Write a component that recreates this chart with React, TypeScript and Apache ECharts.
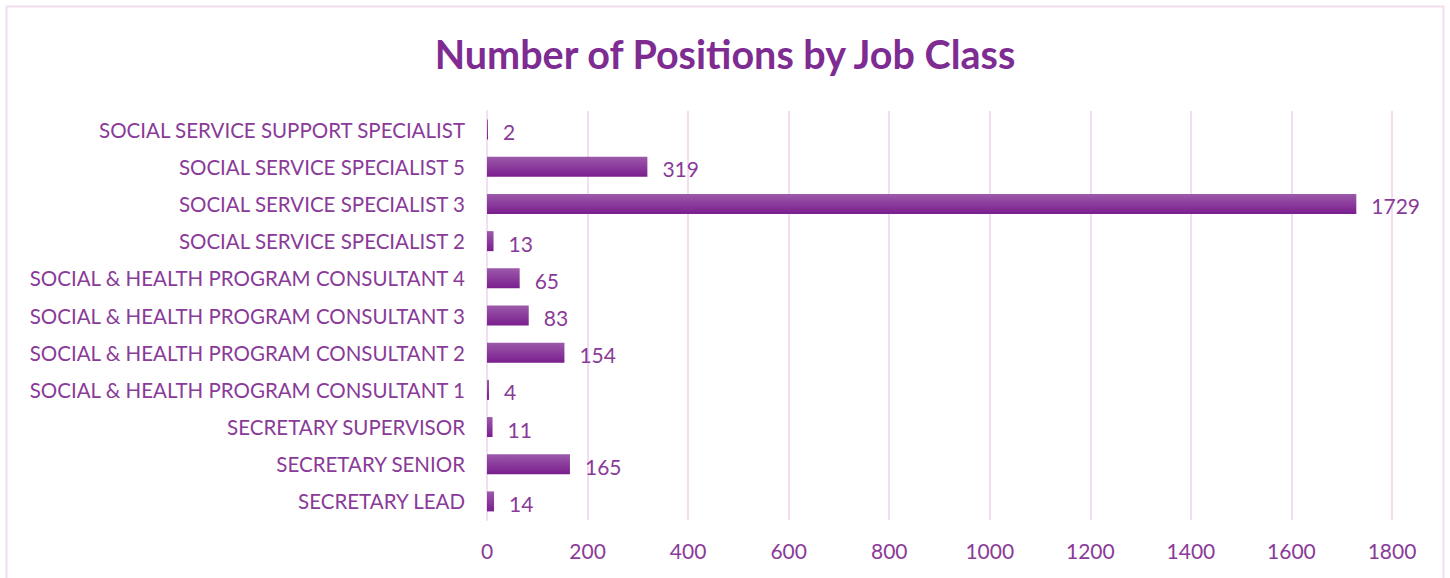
import React, { useEffect, useRef } from "react";
import * as echarts from "echarts";

const categories = [
  "SECRETARY LEAD",
  "SECRETARY SENIOR",
  "SECRETARY SUPERVISOR",
  "SOCIAL & HEALTH PROGRAM CONSULTANT 1",
  "SOCIAL & HEALTH PROGRAM CONSULTANT 2",
  "SOCIAL & HEALTH PROGRAM CONSULTANT 3",
  "SOCIAL & HEALTH PROGRAM CONSULTANT 4",
  "SOCIAL SERVICE SPECIALIST 2",
  "SOCIAL SERVICE SPECIALIST 3",
  "SOCIAL SERVICE SPECIALIST 5",
  "SOCIAL SERVICE SUPPORT SPECIALIST",
];
const positions = [14, 165, 11, 4, 154, 83, 65, 13, 1729, 319, 2];
const xMin = 0;
const xMax = 1800;
const xInterval = 200;

const TEXT = "#8A3A98";
const FONT = "Lato, 'Open Sans', sans-serif";

export default function App() {
  const ref = useRef<HTMLDivElement>(null);
  useEffect(() => {
    if (!ref.current) return;
    const chart = echarts.init(ref.current, null, { renderer: "svg" });
    chart.setOption({
      animation: false,
      backgroundColor: "#ffffff",
      title: {
        text: "Number of Positions by Job Class",
        left: "center",
        top: 28,
        textStyle: { color: "#7E2B92", fontSize: 39.5, fontWeight: "bold", fontFamily: FONT },
      },
      graphic: [
        {
          type: "rect",
          shape: { x: 6.5, y: 6.5, width: 1437, height: 600 },
          style: { fill: "none", stroke: "#F3DDF1", lineWidth: 2 },
          silent: true,
        },
      ],
      grid: { left: 487, right: 58, top: 111, bottom: 58, containLabel: false },
      xAxis: {
        type: "value",
        min: xMin,
        max: xMax,
        interval: xInterval,
        axisLine: { show: false },
        axisTick: { show: false },
        splitLine: { show: true, lineStyle: { color: "#F3DDF1", width: 2 } },
        axisLabel: {
          color: TEXT,
          fontSize: 21,
          fontFamily: FONT,
          margin: 20,
          formatter: (v: number) => String(v),
        },
      },
      yAxis: {
        type: "category",
        data: categories,
        axisLine: { show: true, lineStyle: { color: "#F3DDF1", width: 2 } },
        axisTick: { show: false },
        axisLabel: { color: TEXT, fontSize: 20.5, fontFamily: FONT, margin: 22 },
      },
      series: [
        {
          type: "bar",
          data: positions,
          barWidth: 20,
          itemStyle: {
            color: new echarts.graphic.LinearGradient(0, 0, 0, 1, [
              { offset: 0, color: "#9C5AAA" },
              { offset: 1, color: "#7A1E8E" },
            ]),
          },
          label: {
            show: true,
            position: "right",
            distance: 15,
            color: TEXT,
            fontSize: 21,
            fontFamily: FONT,
            offset: [0, 2],
          },
        },
      ],
    });
    return () => chart.dispose();
  }, []);
  return (
    <div
      ref={ref}
      style={{ position: "fixed", left: 0, top: 0, width: 1450, height: 578 }}
    />
  );
}
